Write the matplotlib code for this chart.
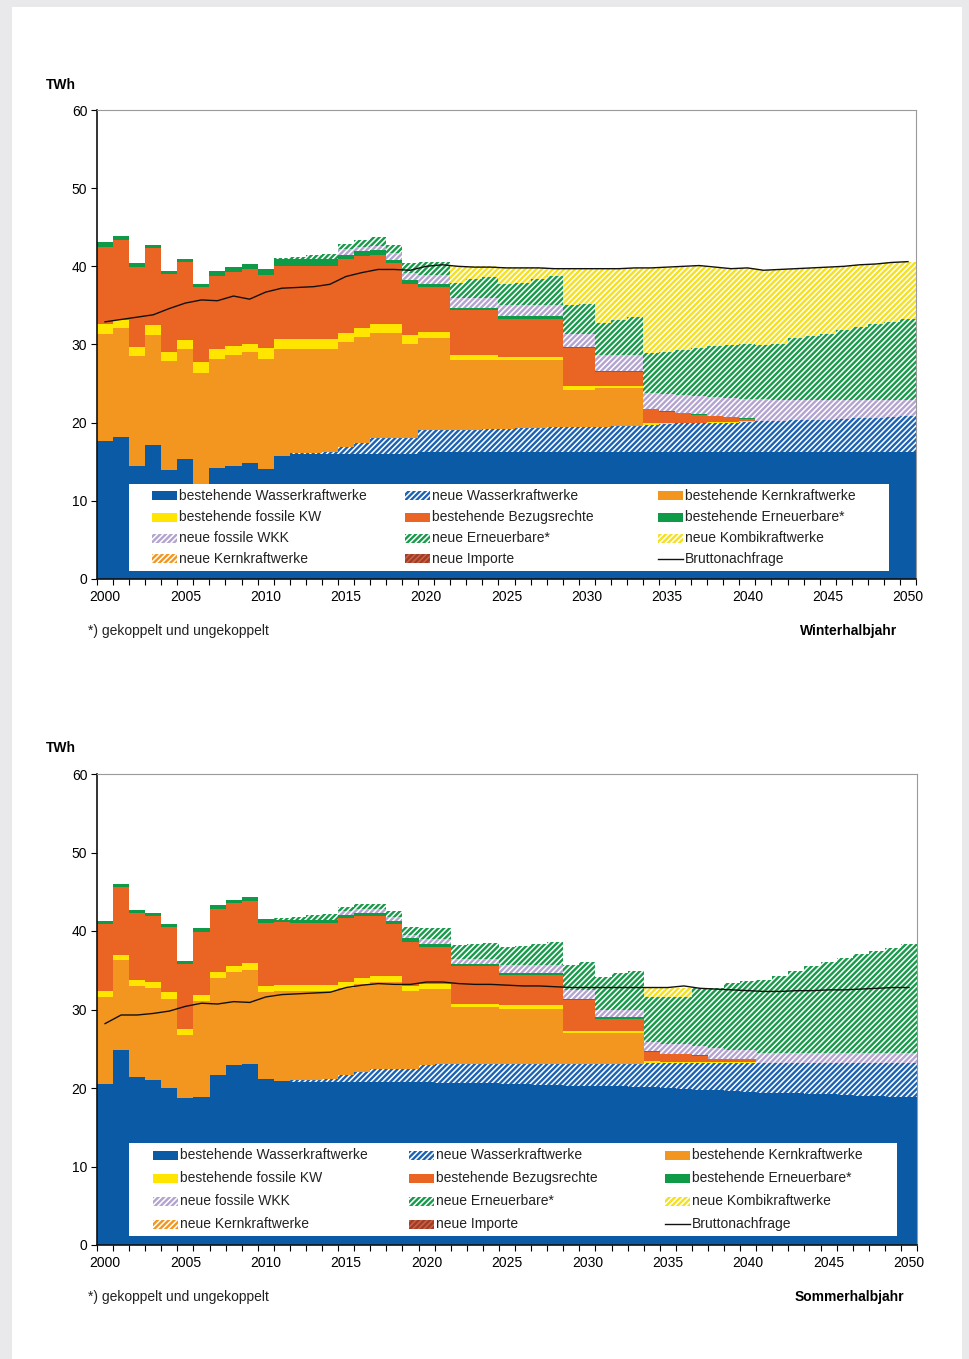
import numpy as np
import matplotlib.pyplot as plt
from matplotlib.patches import Rectangle
from matplotlib.lines import Line2D

plt.rcParams['font.family'] = ['Liberation Sans', 'DejaVu Sans']
plt.rcParams['hatch.linewidth'] = 1.7

years = np.arange(2000, 2051)

# ---------------- Winterhalbjahr (TWh) ----------------
w_wasser_best = [17.7, 18.2, 14.5, 17.1, 13.9, 15.4, 12.2, 14.2, 14.4, 14.9,
                 14.1, 15.7, 16.0, 16.0, 16.0, 16.0, 16.0, 16.0, 16.0, 16.0,
                 16.3, 16.3, 16.3, 16.3, 16.3, 16.3, 16.3, 16.3, 16.3, 16.3,
                 16.3, 16.3, 16.3, 16.3, 16.3, 16.3, 16.3, 16.3, 16.3, 16.3,
                 16.3, 16.3, 16.3, 16.3, 16.3, 16.3, 16.3, 16.3, 16.3, 16.3,
                 16.3]
w_wasser_neu = [0, 0, 0, 0, 0, 0, 0, 0, 0, 0,
                0, 0, 0.1, 0.1, 0.2, 0.9, 1.4, 2.0, 2.0, 2.1,
                2.7, 2.7, 2.8, 2.8, 2.9, 2.9, 3.0, 3.0, 3.1, 3.1,
                3.2, 3.2, 3.3, 3.3, 3.4, 3.5, 3.6, 3.6, 3.7, 3.7,
                3.8, 3.9, 3.9, 4.0, 4.1, 4.1, 4.2, 4.3, 4.3, 4.4,
                4.5]
w_kern = [13.6, 13.9, 14.0, 14.1, 14.0, 14.0, 14.2, 14.0, 14.2, 14.1,
          14.1, 13.7, 13.3, 13.3, 13.2, 13.4, 13.5, 13.5, 13.5, 12.0,
          11.8, 11.8, 8.9, 8.9, 8.8, 8.8, 8.7, 8.7, 8.6, 4.8,
          4.7, 4.9, 4.8, 4.8, 0, 0, 0, 0, 0, 0,
          0, 0, 0, 0, 0, 0, 0, 0, 0, 0,
          0]
w_fossil = [1.3, 1.0, 1.2, 1.3, 1.2, 1.2, 1.3, 1.2, 1.2, 1.1,
            1.3, 1.3, 1.3, 1.3, 1.3, 1.2, 1.2, 1.1, 1.1, 1.1,
            0.8, 0.8, 0.6, 0.6, 0.6, 0.4, 0.4, 0.4, 0.4, 0.5,
            0.5, 0.3, 0.3, 0.3, 0.2, 0.1, 0.1, 0.1, 0.1, 0.1,
            0.1, 0, 0, 0, 0, 0, 0, 0, 0, 0,
            0]
w_bezug = [9.9, 10.3, 10.2, 9.8, 9.9, 9.9, 9.6, 9.3, 9.5, 9.5,
           9.4, 9.3, 9.3, 9.3, 9.3, 9.5, 9.2, 8.9, 7.8, 6.5,
           5.8, 5.8, 5.8, 5.8, 5.8, 4.9, 4.9, 4.9, 4.9, 4.8,
           4.8, 1.8, 1.8, 1.8, 1.8, 1.5, 1.2, 1.0, 0.7, 0.6,
           0.3, 0, 0, 0, 0, 0, 0, 0, 0, 0,
           0]
w_ern_best = [0.6, 0.5, 0.5, 0.4, 0.4, 0.5, 0.5, 0.7, 0.6, 0.7,
              0.8, 0.9, 0.9, 0.9, 0.9, 0.5, 0.6, 0.6, 0.4, 0.5,
              0.3, 0.3, 0.3, 0.3, 0.3, 0.3, 0.3, 0.3, 0.3, 0.2,
              0.2, 0.1, 0.1, 0.1, 0.05, 0.05, 0.05, 0.05, 0.05, 0.05,
              0.05, 0, 0, 0, 0, 0, 0, 0, 0, 0,
              0]
w_wkk_neu = [0, 0, 0, 0, 0, 0, 0, 0, 0, 0,
             0, 0, 0, 0, 0, 0.7, 0.6, 0.5, 0.9, 0.9,
             1.2, 1.2, 1.3, 1.3, 1.3, 1.5, 1.5, 1.5, 1.5, 1.7,
             1.7, 2.0, 2.0, 2.0, 2.0, 2.2, 2.3, 2.4, 2.4, 2.4,
             2.5, 2.8, 2.7, 2.6, 2.5, 2.5, 2.4, 2.3, 2.3, 2.2,
             2.1]
w_ern_neu = [0, 0, 0, 0, 0, 0, 0, 0, 0, 0,
             0, 0.2, 0.3, 0.5, 0.7, 0.7, 0.9, 1.2, 1.0, 1.3,
             1.7, 1.7, 1.9, 2.4, 2.6, 2.6, 2.8, 3.3, 3.7, 3.6,
             3.8, 4.2, 4.5, 4.9, 5.1, 5.4, 5.7, 6.1, 6.5, 6.8,
             7.0, 6.9, 7.2, 7.9, 8.2, 8.4, 8.9, 9.4, 9.7, 10.0,
             10.4]
w_kombi = [0, 0, 0, 0, 0, 0, 0, 0, 0, 0,
           0, 0, 0, 0, 0, 0, 0, 0, 0, 0,
           0, 0, 2.2, 1.6, 1.4, 2.2, 2.0, 1.5, 1.0, 4.7,
           4.5, 6.9, 6.6, 6.3, 10.9, 10.8, 10.7, 10.5, 10.1, 9.7,
           9.7, 9.6, 9.5, 8.9, 8.7, 8.6, 8.2, 7.9, 7.7, 7.6,
           7.3]
w_kern_neu = [0] * 51
w_import_neu = [0] * 51
w_demand = [32.9, 33.2, 33.5, 33.8, 34.6, 35.3, 35.7, 35.6, 36.2, 35.8,
            36.7, 37.2, 37.3, 37.4, 37.7, 38.7, 39.2, 39.6, 39.6, 39.5,
            40.0, 40.2, 40.0, 39.9, 39.9, 39.8, 39.8, 39.8, 39.7, 39.7,
            39.7, 39.7, 39.7, 39.8, 39.8, 39.9, 40.0, 40.1, 39.9, 39.7,
            39.8, 39.5, 39.6, 39.7, 39.8, 39.9, 40.0, 40.2, 40.3, 40.5,
            40.6]

# ---------------- Sommerhalbjahr (TWh) ----------------
s_wasser_best = [20.5, 24.8, 21.4, 21.0, 20.0, 18.7, 18.9, 21.7, 22.9, 23.1,
                 21.1, 20.9, 20.8, 20.8, 20.8, 20.8, 20.8, 20.8, 20.8, 20.8,
                 20.8, 20.7, 20.7, 20.6, 20.6, 20.5, 20.5, 20.4, 20.4, 20.3,
                 20.3, 20.2, 20.2, 20.1, 20.1, 20.0, 19.9, 19.8, 19.7, 19.6,
                 19.5, 19.4, 19.4, 19.3, 19.2, 19.2, 19.1, 19.0, 19.0, 18.9,
                 18.9]
s_wasser_neu = [0, 0, 0, 0, 0, 0, 0, 0, 0, 0,
                0, 0, 0.2, 0.2, 0.3, 0.9, 1.3, 1.6, 1.6, 1.6,
                2.1, 2.3, 2.4, 2.5, 2.5, 2.6, 2.6, 2.7, 2.7, 2.8,
                2.8, 2.9, 2.9, 3.0, 3.1, 3.2, 3.3, 3.4, 3.5, 3.6,
                3.7, 3.8, 3.8, 3.9, 4.0, 4.0, 4.1, 4.2, 4.2, 4.3,
                4.3]
s_kern = [11.1, 11.5, 11.6, 11.8, 11.4, 8.0, 12.2, 12.3, 11.9, 11.9,
          11.1, 11.4, 11.3, 11.3, 11.2, 11.1, 11.1, 11.1, 11.1, 10.0,
          9.7, 9.6, 7.2, 7.2, 7.2, 7.0, 7.0, 7.0, 7.0, 3.9,
          3.9, 3.9, 3.9, 3.9, 0, 0, 0, 0, 0, 0,
          0, 0, 0, 0, 0, 0, 0, 0, 0, 0,
          0]
s_fossil = [0.7, 0.6, 0.7, 0.7, 0.8, 0.8, 0.8, 0.8, 0.8, 0.9,
            0.8, 0.8, 0.8, 0.8, 0.8, 0.7, 0.8, 0.8, 0.8, 0.6,
            0.7, 0.7, 0.4, 0.4, 0.4, 0.5, 0.5, 0.5, 0.5, 0.3,
            0.3, 0.3, 0.3, 0.3, 0.2, 0.1, 0.1, 0.1, 0.1, 0.1,
            0.1, 0, 0, 0, 0, 0, 0, 0, 0, 0,
            0]
s_bezug = [8.6, 8.7, 8.6, 8.4, 8.3, 8.3, 8.0, 8.0, 8.0, 7.9,
           8.0, 8.0, 7.9, 7.9, 7.9, 8.1, 7.9, 7.6, 6.6, 5.6,
           4.7, 4.7, 4.8, 4.8, 4.8, 3.8, 3.8, 3.8, 3.8, 3.9,
           3.9, 1.5, 1.5, 1.5, 1.2, 1.0, 1.0, 0.8, 0.4, 0.4,
           0.4, 0, 0, 0, 0, 0, 0, 0, 0, 0,
           0]
s_ern_best = [0.4, 0.4, 0.4, 0.4, 0.4, 0.4, 0.5, 0.5, 0.4, 0.5,
              0.5, 0.3, 0.4, 0.4, 0.4, 0.4, 0.4, 0.4, 0.4, 0.5,
              0.3, 0.3, 0.3, 0.3, 0.3, 0.2, 0.2, 0.2, 0.2, 0.2,
              0.2, 0.2, 0.2, 0.2, 0.05, 0.05, 0.05, 0.05, 0.05, 0.05,
              0.05, 0, 0, 0, 0, 0, 0, 0, 0, 0,
              0]
s_wkk_neu = [0, 0, 0, 0, 0, 0, 0, 0, 0, 0,
             0, 0, 0, 0, 0, 0.5, 0.5, 0.5, 0.5, 0.4,
             0.7, 0.7, 0.6, 0.6, 0.6, 1.1, 1.1, 1.1, 1.1, 1.1,
             1.1, 1.0, 1.0, 1.0, 1.25, 1.25, 1.25, 1.25, 1.35, 1.15,
             1.05, 1.3, 1.3, 1.3, 1.3, 1.3, 1.3, 1.3, 1.3, 1.3,
             1.3]
s_ern_neu = [0, 0, 0, 0, 0, 0, 0, 0, 0, 0,
             0, 0.3, 0.4, 0.6, 0.8, 0.5, 0.7, 0.7, 0.7, 1.0,
             1.4, 1.4, 1.8, 2.0, 2.1, 2.2, 2.4, 2.7, 2.9, 3.2,
             3.6, 4.2, 4.7, 4.9, 5.7, 6.0, 6.0, 7.4, 7.7, 8.5,
             8.8, 9.3, 9.8, 10.4, 11.0, 11.6, 12.0, 12.6, 12.9, 13.3,
             13.8]
s_kombi = [0, 0, 0, 0, 0, 0, 0, 0, 0, 0,
           0, 0, 0, 0, 0, 0, 0, 0, 0, 0,
           0, 0, 0, 0, 0, 0, 0, 0, 0, 0,
           0, 0, 0, 0, 1.1, 1.1, 1.2, 0, 0, 0,
           0, 0, 0, 0, 0, 0, 0, 0, 0, 0,
           0]
s_kern_neu = [0] * 51
s_import_neu = [0] * 51
s_demand = [28.2, 29.3, 29.3, 29.5, 29.8, 30.4, 30.8, 30.7, 31.0, 30.9,
            31.6, 31.9, 32.0, 32.1, 32.2, 32.8, 33.1, 33.3, 33.2, 33.2,
            33.5, 33.5, 33.3, 33.2, 33.2, 33.1, 33.0, 33.0, 32.9, 32.8,
            32.8, 32.8, 32.8, 32.8, 32.8, 32.8, 33.0, 32.7, 32.6, 32.5,
            32.4, 32.3, 32.3, 32.4, 32.4, 32.5, 32.5, 32.6, 32.7, 32.8,
            32.8]

# label, face colour, hatch colour, hatch
HATCH = '//////'
styles = [
    ('bestehende Wasserkraftwerke', '#0a5aa5', '#0a5aa5', None),
    ('neue Wasserkraftwerke', 'white', '#1c62b3', HATCH),
    ('bestehende Kernkraftwerke', '#f3961f', '#f3961f', None),
    ('bestehende fossile KW', '#ffe500', '#ffe500', None),
    ('bestehende Bezugsrechte', '#ea6424', '#ea6424', None),
    ('bestehende Erneuerbare*', '#0f9a48', '#0f9a48', None),
    ('neue fossile WKK', 'white', '#b3a3cf', HATCH),
    ('neue Erneuerbare*', 'white', '#179a4a', HATCH),
    ('neue Kombikraftwerke', 'white', '#f5e020', HATCH),
    ('neue Kernkraftwerke', 'white', '#f3961f', HATCH),
    ('neue Importe', '#d0603f', '#9c3e2c', HATCH),
]
legend_rows = [[0, 1, 2], [3, 4, 5], [6, 7, 8], [9, 10, 'line']]

winter = [w_wasser_best, w_wasser_neu, w_kern, w_fossil, w_bezug, w_ern_best,
          w_wkk_neu, w_ern_neu, w_kombi, w_kern_neu, w_import_neu]
summer = [s_wasser_best, s_wasser_neu, s_kern, s_fossil, s_bezug, s_ern_best,
          s_wkk_neu, s_ern_neu, s_kombi, s_kern_neu, s_import_neu]

W, H = 970, 1359
fig = plt.figure(figsize=(W / 100, H / 100), dpi=100, facecolor='#e9e9ec')
fig.patches.append(Rectangle((12 / W, 0), 950 / W, 1 - 7 / H,
                             transform=fig.transFigure, facecolor='white',
                             edgecolor='none', zorder=-10))


def fx(x):
    return x / W


def fy(y):
    return 1 - y / H


def draw_legend(box, col_x, row_y):
    x0, y0, x1, y1 = box
    fig.patches.append(Rectangle((fx(x0), fy(y1)), fx(x1) - fx(x0), fy(y0) - fy(y1),
                                 transform=fig.transFigure, facecolor='white',
                                 edgecolor='none', zorder=5))
    for r, row in enumerate(legend_rows):
        for c, idx in enumerate(row):
            hx, hy = col_x[c], row_y[r]
            if idx == 'line':
                fig.lines.append(Line2D([fx(hx), fx(hx + 25)], [fy(hy), fy(hy)],
                                        transform=fig.transFigure, color='#111111',
                                        lw=1.0, zorder=6))
                label = 'Bruttonachfrage'
            else:
                label, face, hcol, hatch = styles[idx]
                fig.patches.append(Rectangle((fx(hx), fy(hy + 4.5)), 25 / W, 9 / H,
                                             transform=fig.transFigure, facecolor=face,
                                             edgecolor=hcol, hatch=hatch, linewidth=0,
                                             zorder=6))
            fig.text(fx(hx + 27), fy(hy), label, fontsize=10, va='center',
                     color='#222222', zorder=7)


def draw_panel(ax, layers, demand):
    edges = np.append(years - 0.5, years[-1] + 0.5)
    bottom = np.zeros(len(years))
    for (label, face, hcol, hatch), vals in zip(styles, layers):
        top = bottom + np.asarray(vals, dtype=float)
        ax.fill_between(edges, np.append(bottom, bottom[-1]),
                        np.append(top, top[-1]), step='post',
                        facecolor=face, edgecolor=hcol, hatch=hatch,
                        linewidth=0)
        bottom = top
    ax.plot(years, demand, color='#111111', lw=1.0, zorder=5)

    ax.set_xlim(1999.5, 2050.5)
    ax.set_ylim(0, 60)
    ax.set_yticks(range(0, 61, 10))
    ax.set_xticks(range(2000, 2051, 5))
    ax.set_xticks(np.arange(1999.5, 2051, 1), minor=True)
    ax.tick_params(axis='x', which='major', length=0, pad=8, labelsize=10)
    ax.tick_params(axis='x', which='minor', length=4, width=0.8, direction='out')
    ax.tick_params(axis='y', length=4, width=0.8, pad=3, labelsize=10)
    for s in ['left', 'bottom']:
        ax.spines[s].set_color('#111111')
        ax.spines[s].set_linewidth(1.2)
    for s in ['top', 'right']:
        ax.spines[s].set_color('#9a9a9a')
        ax.spines[s].set_linewidth(0.8)


ax1 = fig.add_axes([fx(97), fy(579), 819 / W, 469 / H])
draw_panel(ax1, winter, w_demand)
draw_legend((129, 484, 889, 571), [152, 405, 658], [496, 517, 538, 559])

ax2 = fig.add_axes([fx(97), fy(1245), 820 / W, 471 / H])
draw_panel(ax2, summer, s_demand)
draw_legend((129, 1143, 897, 1236), [153, 409, 665], [1155, 1178, 1201, 1224])

fig.text(fx(46), fy(85), 'TWh', fontsize=10, fontweight='bold', va='center')
fig.text(fx(88), fy(631), '*) gekoppelt und ungekoppelt', fontsize=10,
         va='center', color='#222222')
fig.text(fx(897), fy(631), 'Winterhalbjahr', fontsize=10,
         fontweight='bold', ha='right', va='center')

fig.text(fx(46), fy(748), 'TWh', fontsize=10, fontweight='bold', va='center')
fig.text(fx(88), fy(1297), '*) gekoppelt und ungekoppelt', fontsize=10,
         va='center', color='#222222')
fig.text(fx(904), fy(1297), 'Sommerhalbjahr', fontsize=10,
         fontweight='bold', ha='right', va='center')

fig.savefig('out.png', dpi=100, facecolor=fig.get_facecolor())
